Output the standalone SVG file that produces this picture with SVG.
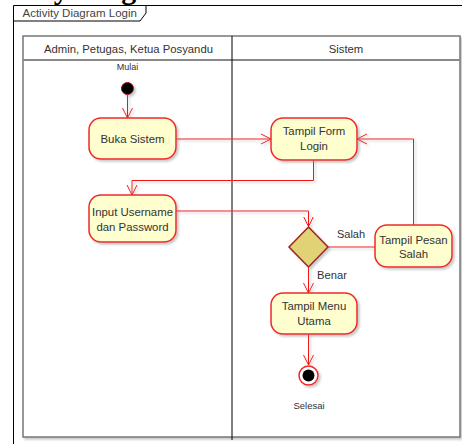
<svg xmlns="http://www.w3.org/2000/svg" width="462" height="444" viewBox="0 0 462 444">
<style>
  .lbl{font-family:"Liberation Sans",Arial,sans-serif;fill:#333;text-anchor:middle}
  .node{fill:#FEFECE;stroke:#F02828;stroke-width:1.5;filter:url(#sh)}
  .nt{font-family:"Liberation Sans",Arial,sans-serif;font-size:11.4px;fill:#333;text-anchor:middle}
  .edge{fill:none;stroke:#F01818;stroke-width:1;filter:url(#shu)}
  .arr{marker-end:url(#ah)}
</style>
<defs>
  <filter id="sh" x="-20%" y="-20%" width="150%" height="150%">
    <feDropShadow dx="2" dy="2" stdDeviation="1" flood-color="#888" flood-opacity="0.45"/>
  </filter>
  <filter id="shu" filterUnits="userSpaceOnUse" x="0" y="0" width="462" height="444">
    <feDropShadow dx="2" dy="2" stdDeviation="0.8" flood-color="#999" flood-opacity="0.45"/>
  </filter>
  <marker id="ah" markerUnits="userSpaceOnUse" markerWidth="12" markerHeight="12" refX="10" refY="5" orient="auto" viewBox="0 0 12 10">
    <path d="M0,0 L10,5 L0,10" fill="none" stroke="#F01818" stroke-width="1"/>
  </marker>
</defs>
<rect width="462" height="444" fill="#fff"/>
<text x="-33" y="-1.5" font-family="Liberation Serif,serif" font-weight="bold" font-size="30" fill="#000">Activity Diagram</text>
<g id="frame">
  <path d="M13.5,444 L13.5,5.5 L462,5.5" fill="none" stroke="#000" stroke-width="1"/>
  <path d="M13.5,21 L140,21 L146,13 L146,5.5" fill="none" stroke="#000" stroke-width="1"/>
  <text x="22.5" y="17" font-family="Liberation Sans,Arial,sans-serif" font-size="11.5" fill="#444">Activity Diagram Login</text>
</g>
<g id="pool">
  <rect x="23" y="36" width="437" height="401" fill="#fff" stroke="#777" stroke-width="1.5" filter="url(#sh)"/>
  <line x1="23" y1="60" x2="460" y2="60" stroke="#888" stroke-width="2"/>
  <line x1="232" y1="36" x2="232" y2="440" stroke="#000" stroke-width="1"/>
  <text class="lbl" x="128.5" y="53" font-size="11.3">Admin, Petugas, Ketua Posyandu</text>
  <text class="lbl" x="346" y="53" font-size="11.3">Sistem</text>
</g>
<g id="connectors">
  <path class="edge arr" d="M127.5,95 L127.5,118"/>
  <path class="edge arr" d="M176,139 L271,139"/>
  <path class="edge arr" d="M313.5,160 L313.5,180.5 L132,180.5 L132,195"/>
  <path class="edge arr" d="M176,211 L308.5,211 L308.5,226.5"/>
  <path class="edge" d="M328,247 L375,247"/>
  <path class="edge arr" d="M413.5,225 L413.5,139 L357,139"/>
  <path class="edge arr" d="M308.5,267 L308.5,293"/>
  <path class="edge arr" d="M308.5,334 L308.5,365"/>
  <text class="lbl" x="351" y="237.5" font-size="11">Salah</text>
  <text class="lbl" x="332" y="279" font-size="11.2">Benar</text>
</g>
<g id="start">
  <text class="lbl" x="127.5" y="70" font-size="9" fill="#444">Mulai</text>
  <circle cx="127.5" cy="88.5" r="6" fill="#000" stroke="#B00000" stroke-width="1" filter="url(#sh)"/>
</g>
<g id="buka">
  <rect class="node" x="89" y="118" width="87" height="41" rx="12"/>
  <text class="nt" x="132.5" y="143">Buka Sistem</text>
</g>
<g id="formlogin">
  <rect class="node" x="271" y="118" width="86" height="42" rx="12"/>
  <text class="nt" x="314" y="135">Tampil Form</text>
  <text class="nt" x="314" y="150">Login</text>
</g>
<g id="input">
  <rect class="node" x="89" y="195" width="87" height="47" rx="12"/>
  <text class="nt" x="132.5" y="215.5">Input Username</text>
  <text class="nt" x="132.5" y="230.5">dan Password</text>
</g>
<g id="decision">
  <path d="M308.5,227 L328,247 L308.5,267 L289,247 Z" fill="#E0D275" stroke="#A02020" stroke-width="1.5" filter="url(#sh)"/>
</g>
<g id="pesan">
  <rect class="node" x="375" y="225" width="77" height="42" rx="12"/>
  <text class="nt" x="413.5" y="243.5">Tampil Pesan</text>
  <text class="nt" x="413.5" y="258">Salah</text>
</g>
<g id="menu">
  <rect class="node" x="271" y="293" width="86" height="41" rx="12"/>
  <text class="nt" x="314" y="310">Tampil Menu</text>
  <text class="nt" x="314" y="325">Utama</text>
</g>
<g id="end">
  <circle cx="308.5" cy="375.5" r="9.5" fill="#fff" stroke="#F02828" stroke-width="1.5" filter="url(#sh)"/>
  <circle cx="308.5" cy="375.5" r="6" fill="#000"/>
  <text class="lbl" x="309" y="409" font-size="9.5" fill="#444">Selesai</text>
</g>
</svg>
